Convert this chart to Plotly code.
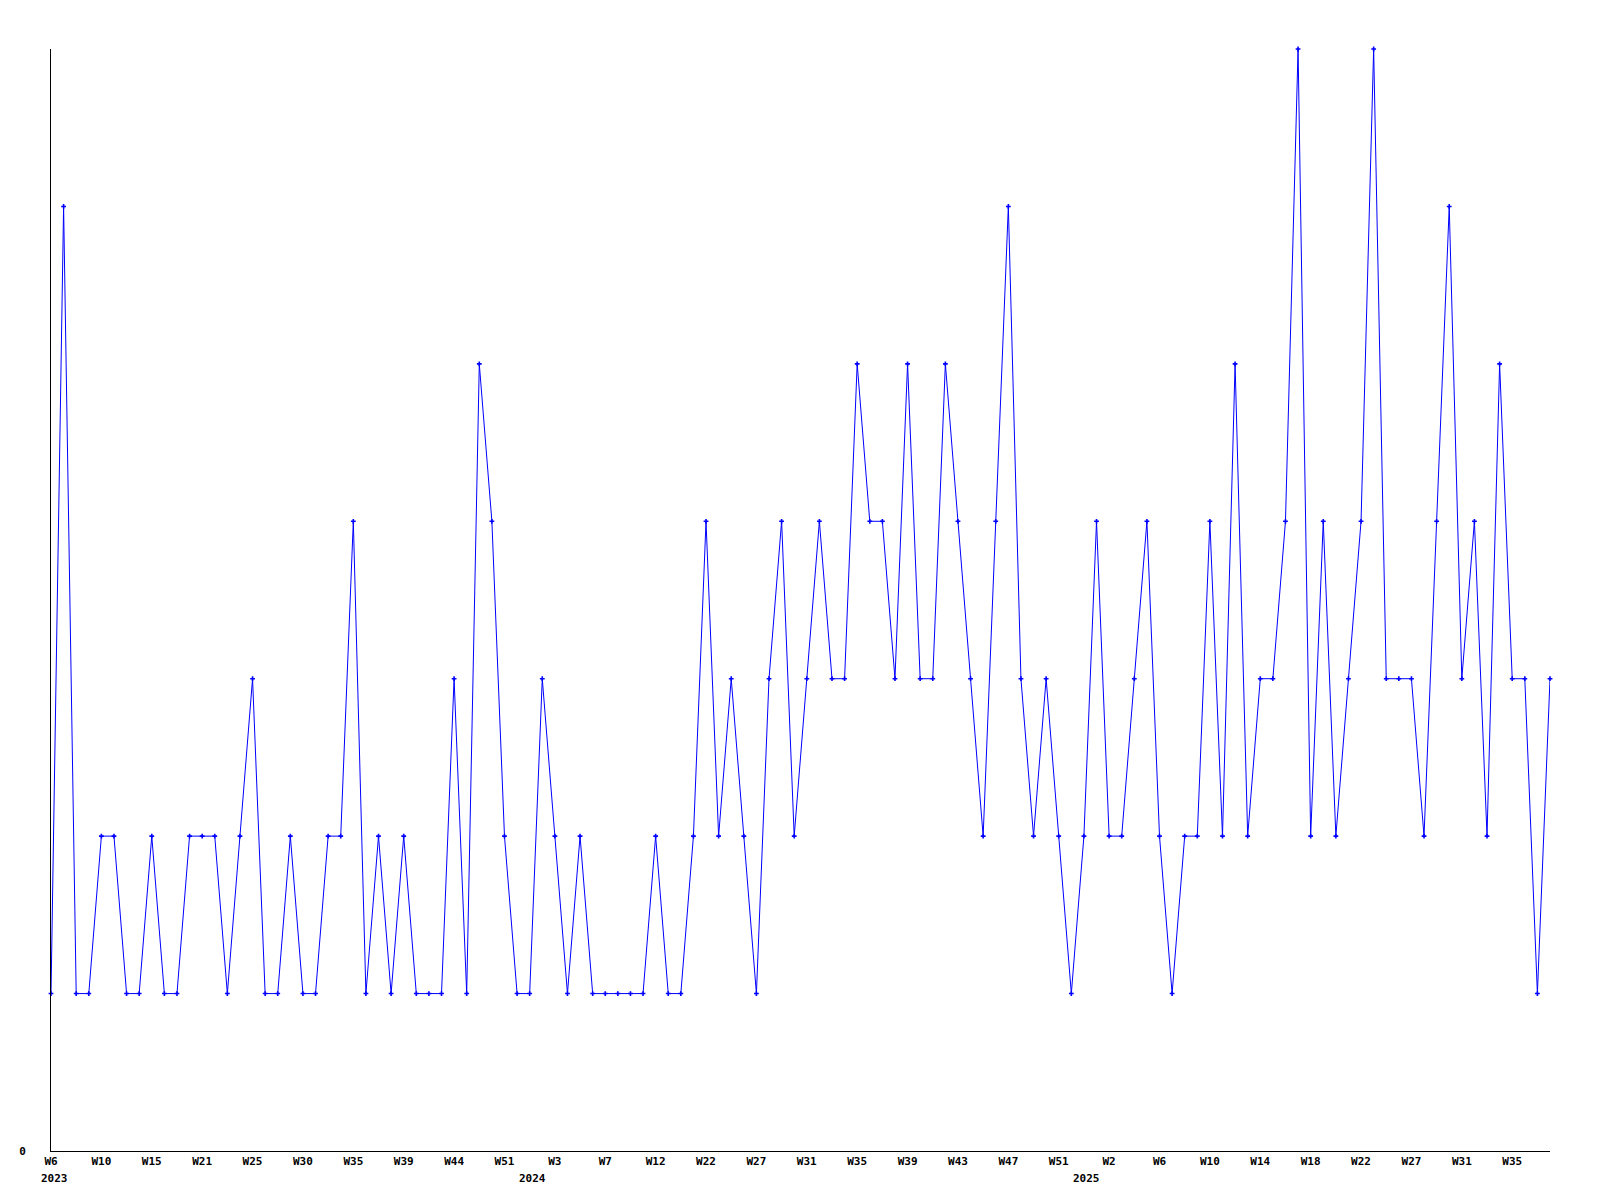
import plotly.graph_objs as go

# Semanas con datos (las semanas sin datos no aparecen en el eje)
semanas_2023 = [6, 7, 8, 9, 10, 11, 12, 14, 15, 16, 18, 20, 21, 22, 23, 24, 25, 26, 27,
                29, 30, 31, 32, 34, 35, 36, 37, 38, 39, 40, 41, 43, 44, 46, 48, 49, 51, 52]
semanas_2024 = [1, 2, 3, 4, 5, 6, 7, 8, 9, 11, 12, 15, 18, 20, 22, 23, 24, 26, 27, 28,
                29, 30, 31, 32, 33, 34, 35, 36, 37, 38, 39, 40, 41, 42, 43, 44, 45, 46,
                47, 48, 49, 50, 51, 52]
semanas_2025 = [0, 1, 2, 3, 4, 5, 6, 7, 8, 9, 10, 11, 12, 13, 14, 15, 16, 17, 18, 19,
                20, 21, 22, 23, 24, 26, 27, 28, 29, 30, 31, 32, 33, 34, 35, 36, 37, 38]

# Conteos semanales
valores_2023 = [1, 6, 1, 1, 2, 2, 1, 1, 2, 1, 1, 2, 2, 2, 1, 2, 3, 1, 1,
                2, 1, 1, 2, 2, 4, 1, 2, 1, 2, 1, 1, 1, 3, 1, 5, 4, 2, 1]
valores_2024 = [1, 3, 2, 1, 2, 1, 1, 1, 1, 1, 2, 1, 1, 2, 4, 2, 3, 2, 1, 3,
                4, 2, 3, 4, 3, 3, 5, 4, 4, 3, 5, 3, 3, 5, 4, 3, 2, 4,
                6, 3, 2, 3, 2, 1]
valores_2025 = [2, 4, 2, 2, 3, 4, 2, 1, 2, 2, 4, 2, 5, 2, 3, 3, 4, 7, 2, 4,
                2, 3, 4, 7, 3, 3, 3, 2, 4, 6, 3, 4, 2, 5, 3, 3, 1, 3]

anios = [2023, 2024, 2025]
semanas = [semanas_2023, semanas_2024, semanas_2025]
valores = [valores_2023, valores_2024, valores_2025]

# Construir categorias del eje X
x_cat = []
y_val = []
primeras = []
for anio, sem, val in zip(anios, semanas, valores):
    primeras.append("%d-W%02d" % (anio, sem[0]))
    for s, v in zip(sem, val):
        x_cat.append("%d-W%02d" % (anio, s))
        y_val.append(v)

# Etiquetas cada 4 puntos
tick_vals = x_cat[::4]
tick_text = ["W%d" % int(c.split("-W")[1]) for c in tick_vals]

fuente = dict(family="DejaVu Sans Mono", size=11, color="black", weight="bold")

fig = go.Figure(go.Scatter(
    x=x_cat,
    y=y_val,
    mode="lines+markers",
    line=dict(color="#0000ff", width=1),
    marker=dict(symbol="cross", size=4, color="#0000ff", line=dict(width=0)),
    cliponaxis=False,
    hovertemplate="%{x}: %{y}<extra></extra>"
))

# Etiquetas de año debajo de las semanas
for anio, cat in zip(anios, primeras):
    fig.add_annotation(
        x=cat, y=0, xref="x", yref="y",
        text=str(anio), showarrow=False,
        xshift=3, yshift=-27, font=fuente
    )

fig.update_layout(
    width=1600,
    height=1200,
    margin=dict(l=51, r=50, t=49, b=49),
    plot_bgcolor="white",
    paper_bgcolor="white",
    showlegend=False,
    xaxis=dict(
        type="category",
        categoryorder="array",
        categoryarray=x_cat,
        range=[0, len(x_cat) - 1],
        tickmode="array",
        tickvals=tick_vals,
        ticktext=tick_text,
        tickfont=fuente,
        showgrid=False,
        zeroline=False,
        showline=True,
        linecolor="black",
        linewidth=1,
        ticks="",
    ),
    yaxis=dict(
        range=[0, 7],
        tickvals=[0],
        ticktext=["0"],
        tickfont=fuente,
        showgrid=False,
        zeroline=False,
        showline=True,
        linecolor="black",
        linewidth=1,
        ticks="outside",
        ticklen=22,
        tickcolor="rgba(0,0,0,0)",
    ),
)

fig.write_html("out.html", config={"displayModeBar": False},
               post_script="document.body.style.margin='0';")
